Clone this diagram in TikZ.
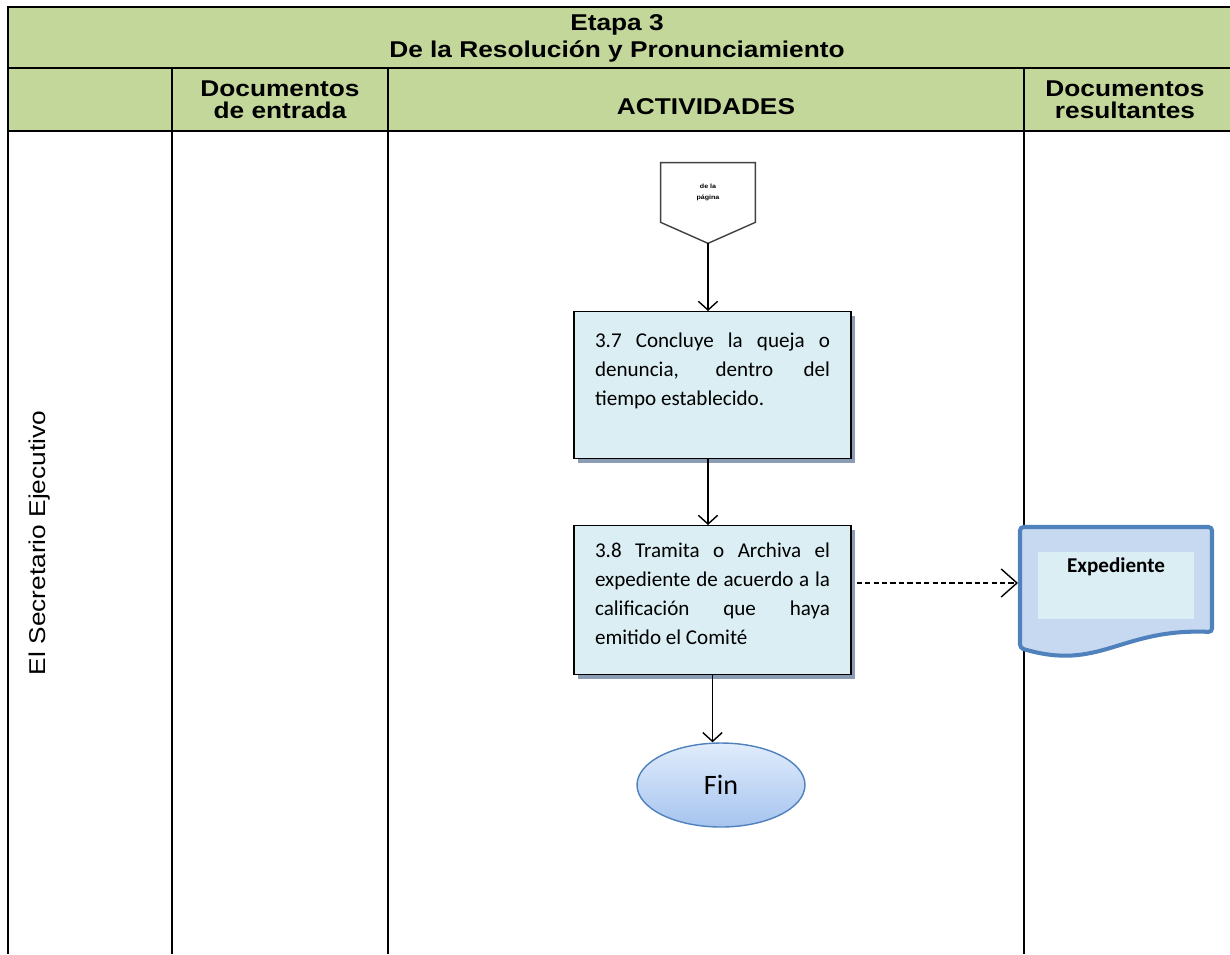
\documentclass[tikz,border=0pt]{standalone}
\usepackage{fontspec}
\setmainfont{Liberation Sans}[FakeStretch=1.15]
\newfontfamily\calibri{Carlito}
\usetikzlibrary{arrows.meta,shapes.geometric,shadows,calc}

\definecolor{headgreen}{HTML}{C4D79B}
\definecolor{boxfill}{HTML}{DAEEF3}
\definecolor{boxshadow}{HTML}{8A9DB5}
\definecolor{docline}{HTML}{4F81BD}
\definecolor{docfill}{HTML}{C6D9F1}
\definecolor{docinner}{HTML}{DBEEF3}
\definecolor{fintop}{HTML}{E1ECFC}
\definecolor{finbottom}{HTML}{A6C4EF}

\begin{document}
\begin{tikzpicture}[x=0.02cm, y=-0.02cm, >={Straight Barb[length=5pt,width=11pt]}]
    \tikzstyle{gridline} = [line width=1.5pt]
    \tikzstyle{headtext} = [font=\fontsize{13}{15.4}\selectfont\bfseries, align=center, inner sep=0pt]
    \tikzstyle{process}  = [draw, line width=0.8pt, fill=boxfill, text width=4.7cm, align=justify, inner xsep=0.42cm, inner ysep=0pt, font=\calibri\fontsize{12}{16.5}\selectfont, drop shadow={shadow xshift=2.5pt, shadow yshift=-2.5pt, fill=boxshadow, opacity=1}]
    \tikzstyle{startend} = [draw=docline, ellipse, line width=0.8pt, top color=fintop, bottom color=finbottom, minimum width=3.36cm, minimum height=1.68cm, font=\calibri\fontsize{16}{18}\selectfont]
    \tikzstyle{offpage}  = [minimum width=1.88cm, minimum height=1.18cm, inner sep=0pt, align=center, font=\fontsize{3.5}{6}\selectfont\bfseries]
    \tikzstyle{arrow}    = [line width=0.8pt, ->]
    \tikzstyle{dasharrow} = [line width=0.8pt, dash pattern=on 3pt off 1.8pt, -{Straight Barb[length=9pt,width=16pt]}]

    \useasboundingbox (0,0) rectangle (1230,954);

    % Header
    \fill [headgreen] (8,7) rectangle (1232,131);
    \draw [gridline] (1232,7) -- (8,7) -- (8,954);
    \draw [gridline] (8,68) -- (1232,68);
    \draw [gridline] (8,131) -- (1232,131);
    \draw [gridline] (172,68) -- (172,954);
    \draw [gridline] (388,68) -- (388,954);
    \draw [gridline] (1024,68) -- (1024,954);

    \node [headtext] (title) at (617,38.5) {Etapa 3\\De la Resolución y Pronunciamiento};
    \node [headtext, font=\fontsize{13}{12.5}\selectfont\bfseries] (docin) at (280,100) {Documentos\\de entrada};
    \node [headtext] (activ) at (706,107) {ACTIVIDADES};
    \node [headtext, font=\fontsize{13}{12.5}\selectfont\bfseries] (docout) at (1125,100) {Documentos\\resultantes};

    % Lane
    \node [rotate=90, font=\fontsize{13}{15}\selectfont] (lane) at (40,543) {El Secretario Ejecutivo};

    % Off-page connector
    \node [offpage] (conn) at (708,192.5) {de la\\página};
    \coordinate (conntip) at ($(conn.south)+(0,21)$);
    \draw [line width=0.8pt, draw=black!75] (conn.north west) -- (conn.north east) -- (conn.south east) -- (conntip) -- (conn.south west) -- cycle;

    % Activities
    \node [process, text height=0.72cm, text depth=2.22cm] (act1) at (712.5,311) [anchor=north] {3.7 Concluye la queja o\linebreak denuncia, dentro del\linebreak tiempo establecido.};
    \node [process, text height=0.64cm, text depth=2.34cm] (act2) at (712.5,525) [anchor=north] {3.8 Tramita o Archiva el\linebreak expediente de acuerdo a la\linebreak calificación que haya\linebreak emitido el Comité};
    \node [startend] (fin) at (721,785) {Fin};

    % Resulting document
    \draw [draw=docline, fill=docfill, line width=2.3pt, rounded corners=2pt] (1020,527) -- (1212,527) -- (1212,632) .. controls (1120,628) and (1100,672) .. (1020,648) -- cycle;
    \node [fill=docinner, minimum width=3.12cm, inner ysep=0pt, text height=0.4cm, text depth=0.94cm, font=\calibri\fontsize{12}{14}\selectfont\bfseries] (exp) at (1116,552) [anchor=north] {Expediente};
    \coordinate (docedge) at (1018,583);

    % Connections
    \draw [arrow] (conntip) -- (conntip |- act1.north);
    \draw [arrow] (act1.south -| conntip) -- (act2.north -| conntip);
    \draw [arrow] (act2.south) -- (act2.south |- fin.north);
    \draw [dasharrow] ($(act2.east |- docedge)+(5,0)$) -- (docedge);
\end{tikzpicture}
\end{document}
